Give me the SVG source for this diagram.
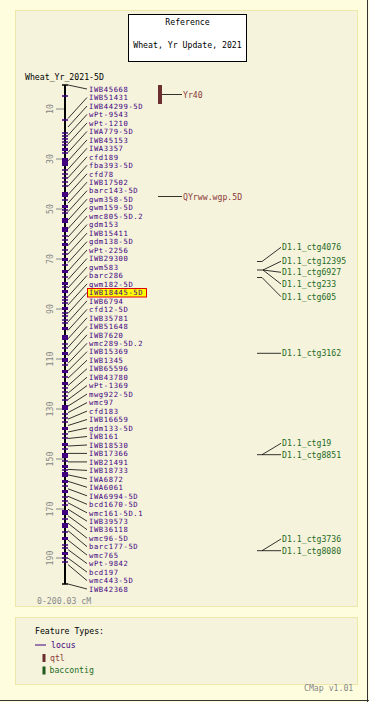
<svg xmlns="http://www.w3.org/2000/svg" width="369" height="702" viewBox="0 0 369 702">
<style>
text{font-family:"DejaVu Sans Mono","Liberation Mono",monospace;font-size:8.2px}
#markers text{font-size:7.2px;letter-spacing:0.6px}
.lbl{fill:#400080}
.qtl{fill:#8b3a3a}
.bac{fill:#1f6b1f}
.blk{fill:#000}
.gry{fill:#888}
.con line{stroke:#000;stroke-width:0.8}
.tk{stroke:#400080;stroke-width:1.3}
.sc{stroke:#888;stroke-width:1}
</style>
<rect x="0" y="0" width="369" height="702" fill="#fefdde"/>
<line x1="367.5" y1="0" x2="367.5" y2="702" stroke="#333"/>
<line x1="0" y1="700.5" x2="369" y2="700.5" stroke="#333"/>
<rect x="15.5" y="10.5" width="342" height="596" fill="#f5f3dc" stroke="#ede7a8"/>
<rect x="15.5" y="617.5" width="342" height="67" fill="#f5f3dc" stroke="#ede7a8"/>

<g id="title">
<rect x="128.5" y="14.5" width="118" height="47" fill="#fff" stroke="#000"/>
<text x="187.5" y="25" text-anchor="middle" class="blk">Reference</text>
<text x="187.5" y="48" text-anchor="middle" class="blk">Wheat, Yr Update, 2021</text>
</g>

<text x="25" y="80" class="blk">Wheat_Yr_2021-5D</text>

<g id="scale">
<g class="sc">
<line x1="56" y1="109" x2="64" y2="109"/><line x1="56" y1="159" x2="64" y2="159"/>
<line x1="56" y1="209" x2="64" y2="209"/><line x1="56" y1="259" x2="64" y2="259"/>
<line x1="56" y1="309" x2="64" y2="309"/><line x1="56" y1="359" x2="64" y2="359"/>
<line x1="56" y1="409" x2="64" y2="409"/><line x1="56" y1="459" x2="64" y2="459"/>
<line x1="56" y1="509" x2="64" y2="509"/><line x1="56" y1="558" x2="64" y2="558"/>
</g>
<g class="gry" text-anchor="middle">
<text transform="translate(53,109) rotate(-90)">10</text>
<text transform="translate(53,159) rotate(-90)">30</text>
<text transform="translate(53,209) rotate(-90)">50</text>
<text transform="translate(53,259) rotate(-90)">70</text>
<text transform="translate(53,309) rotate(-90)">90</text>
<text transform="translate(53,359) rotate(-90)">110</text>
<text transform="translate(53,409) rotate(-90)">130</text>
<text transform="translate(53,459) rotate(-90)">150</text>
<text transform="translate(53,509) rotate(-90)">170</text>
<text transform="translate(53,558) rotate(-90)">190</text>
</g>
<text x="37" y="604" class="gry">0-200.03 cM</text>
</g>

<g id="chromosome">
<line x1="65" y1="85" x2="65" y2="584" stroke="#000" stroke-width="2"/>
<line x1="62" y1="85" x2="68" y2="85" stroke="#000" stroke-width="1.5"/>
<line x1="62" y1="584" x2="68" y2="584" stroke="#000" stroke-width="1.5"/>
<g fill="#400080">
<rect x="62" y="148" width="6" height="3"/><rect x="62" y="158" width="6" height="8"/>
<rect x="62" y="192" width="6" height="5"/><rect x="62" y="205" width="6" height="3"/>
<rect x="62" y="218" width="6" height="5"/><rect x="62" y="227" width="6" height="5"/>
<rect x="62" y="243" width="6" height="3"/><rect x="62" y="258" width="6" height="3"/>
<rect x="62" y="270" width="6" height="3"/><rect x="62" y="282" width="6" height="3"/>
<rect x="62" y="290" width="6" height="3"/><rect x="62" y="307" width="6" height="3"/>
<rect x="62" y="327" width="6" height="3"/><rect x="62" y="335" width="6" height="5"/>
<rect x="62" y="352" width="6" height="3"/><rect x="62" y="358" width="6" height="4"/>
<rect x="62" y="370" width="6" height="3"/><rect x="62" y="382" width="6" height="3"/>
<rect x="62" y="405" width="6" height="5"/><rect x="62" y="427" width="6" height="3"/>
<rect x="62" y="443" width="6" height="3"/><rect x="62" y="453" width="6" height="5"/>
<rect x="62" y="465" width="6" height="3"/><rect x="62" y="472" width="6" height="5"/>
<rect x="62" y="480" width="6" height="3"/><rect x="62" y="490" width="6" height="3"/>
<rect x="62" y="510" width="6" height="5"/><rect x="62" y="523" width="6" height="5"/>
<rect x="62" y="537" width="6" height="3"/><rect x="62" y="552" width="6" height="3"/>
</g>
<path class="tk" d="M62 96h6M62 120h6M62 133h6M62 136h6M62 139h6M62 142h6M62 145h6M62 153h6M62 170h6M62 174h6M62 178h6M62 182h6M62 186h6M62 200h6M62 210h6M62 213h6M62 236h6M62 240h6M62 250h6M62 254h6M62 265h6M62 277h6M62 287h6M62 297h6M62 300h6M62 303h6M62 313h6M62 316h6M62 320h6M62 323h6M62 344h6M62 348h6M62 365h6M62 377h6M62 388h6M62 392h6M62 396h6M62 400h6M62 414h6M62 418h6M62 422h6M62 434h6M62 438h6M62 449h6M62 461h6M62 470h6M62 486h6M62 497h6M62 501h6M62 505h6M62 519h6M62 532h6M62 545h6M62 548h6M62 558h6M62 562h6"/>
</g>

<g id="connectors" class="con">
<line x1="68" y1="85" x2="87" y2="89"/>
<line x1="68" y1="118.5" x2="87" y2="97.5"/>
<line x1="68" y1="127" x2="87" y2="106"/>
<line x1="68" y1="135.4" x2="87" y2="114.4"/>
<line x1="68" y1="143.9" x2="87" y2="122.9"/>
<line x1="68" y1="152.4" x2="87" y2="131.4"/>
<line x1="68" y1="160.9" x2="87" y2="139.9"/>
<line x1="68" y1="169.3" x2="87" y2="148.3"/>
<line x1="68" y1="177.8" x2="87" y2="156.8"/>
<line x1="68" y1="186.3" x2="87" y2="165.3"/>
<line x1="68" y1="194.8" x2="87" y2="173.8"/>
<line x1="68" y1="203.2" x2="87" y2="182.2"/>
<line x1="68" y1="211.7" x2="87" y2="190.7"/>
<line x1="68" y1="220.2" x2="87" y2="199.2"/>
<line x1="68" y1="228.7" x2="87" y2="207.7"/>
<line x1="68" y1="237.1" x2="87" y2="216.1"/>
<line x1="68" y1="245.6" x2="87" y2="224.6"/>
<line x1="68" y1="254.1" x2="87" y2="233.1"/>
<line x1="68" y1="262.6" x2="87" y2="241.6"/>
<line x1="68" y1="271" x2="87" y2="250"/>
<line x1="68" y1="279.5" x2="87" y2="258.5"/>
<line x1="68" y1="288" x2="87" y2="267"/>
<line x1="68" y1="296.5" x2="87" y2="275.5"/>
<line x1="68" y1="304.9" x2="87" y2="283.9"/>
<line x1="68" y1="313.4" x2="87" y2="292.4"/>
<line x1="68" y1="321.9" x2="87" y2="300.9"/>
<line x1="68" y1="330.4" x2="87" y2="309.4"/>
<line x1="68" y1="338.8" x2="87" y2="317.8"/>
<line x1="68" y1="347.3" x2="87" y2="326.3"/>
<line x1="68" y1="355.8" x2="87" y2="334.8"/>
<line x1="68" y1="363.3" x2="87" y2="343.3"/>
<line x1="68" y1="370.7" x2="87" y2="351.7"/>
<line x1="68" y1="378.2" x2="87" y2="360.2"/>
<line x1="68" y1="385.7" x2="87" y2="368.7"/>
<line x1="68" y1="393.2" x2="87" y2="377.2"/>
<line x1="68" y1="399.6" x2="87" y2="385.6"/>
<line x1="68" y1="406.1" x2="87" y2="394.1"/>
<line x1="68" y1="412.6" x2="87" y2="402.6"/>
<line x1="68" y1="419.1" x2="87" y2="411.1"/>
<line x1="68" y1="425.5" x2="87" y2="419.5"/>
<line x1="68" y1="432" x2="87" y2="428"/>
<line x1="68" y1="438.5" x2="87" y2="436.5"/>
<line x1="68" y1="446" x2="87" y2="445"/>
<line x1="68" y1="453.4" x2="87" y2="453.4"/>
<line x1="68" y1="461.9" x2="87" y2="461.9"/>
<line x1="68" y1="469.4" x2="87" y2="470.4"/>
<line x1="68" y1="474.9" x2="87" y2="478.9"/>
<line x1="68" y1="481.3" x2="87" y2="487.3"/>
<line x1="68" y1="488.8" x2="87" y2="495.8"/>
<line x1="68" y1="496.3" x2="87" y2="504.3"/>
<line x1="68" y1="502.8" x2="87" y2="512.8"/>
<line x1="68" y1="509.2" x2="87" y2="521.2"/>
<line x1="68" y1="515.7" x2="87" y2="529.7"/>
<line x1="68" y1="523.2" x2="87" y2="538.2"/>
<line x1="68" y1="530.7" x2="87" y2="546.7"/>
<line x1="68" y1="540.1" x2="87" y2="555.1"/>
<line x1="68" y1="549.6" x2="87" y2="563.6"/>
<line x1="68" y1="558.1" x2="87" y2="572.1"/>
<line x1="68" y1="564.6" x2="87" y2="580.6"/>
<line x1="68" y1="584" x2="87" y2="589"/>
<line x1="162" y1="94.5" x2="182" y2="94.5"/>
<line x1="158" y1="196.5" x2="182" y2="196.5"/>
<line x1="257" y1="261.5" x2="262" y2="261.5"/><line x1="262" y1="261.5" x2="281" y2="247.3"/>
<line x1="257" y1="270" x2="263" y2="270"/><line x1="263" y1="270" x2="281" y2="261.3"/>
<line x1="263" y1="270" x2="281" y2="272.3"/><line x1="263" y1="270" x2="281" y2="284"/>
<line x1="257" y1="277.5" x2="262" y2="277.5"/><line x1="262" y1="277.5" x2="281" y2="296.7"/>
<line x1="257" y1="353.3" x2="281" y2="353.3"/>
<line x1="257" y1="454.7" x2="281" y2="454.7"/><line x1="262" y1="454.7" x2="281" y2="443.3"/>
<line x1="257" y1="550.7" x2="281" y2="550.7"/><line x1="262" y1="550.7" x2="281" y2="539"/>
</g>

<g id="markers" class="lbl">
<text x="89" y="91.7">IWB45668</text>
<text x="89" y="100.2">IWB51431</text>
<text x="89" y="108.7">IWB44299-5D</text>
<text x="89" y="117.1">wPt-9543</text>
<text x="89" y="125.6">wPt-1210</text>
<text x="89" y="134.1">IWA779-5D</text>
<text x="89" y="142.6">IWB45153</text>
<text x="89" y="151">IWA3357</text>
<text x="89" y="159.5">cfd189</text>
<text x="89" y="168">fba393-5D</text>
<text x="89" y="176.5">cfd78</text>
<text x="89" y="184.9">IWB17502</text>
<text x="89" y="193.4">barc143-5D</text>
<text x="89" y="201.9">gwm358-5D</text>
<text x="89" y="210.4">gwm159-5D</text>
<text x="89" y="218.8">wmc805-5D.2</text>
<text x="89" y="227.3">gdm153</text>
<text x="89" y="235.8">IWB15411</text>
<text x="89" y="244.3">gdm138-5D</text>
<text x="89" y="252.7">wPt-2256</text>
<text x="89" y="261.2">IWB29300</text>
<text x="89" y="269.7">gwm583</text>
<text x="89" y="278.2">barc286</text>
<text x="89" y="286.6">gwm182-5D</text>
<rect x="87.5" y="288.5" width="59" height="8.5" fill="#ffff00" stroke="#e00000"/>
<text x="89" y="295.1">IWB18445-5D</text>
<text x="89" y="303.6">IWB6794</text>
<text x="89" y="312.1">cfd12-5D</text>
<text x="89" y="320.5">IWB35781</text>
<text x="89" y="329">IWB51648</text>
<text x="89" y="337.5">IWB7620</text>
<text x="89" y="346">wmc289-5D.2</text>
<text x="89" y="354.4">IWB15369</text>
<text x="89" y="362.9">IWB1345</text>
<text x="89" y="371.4">IWB65596</text>
<text x="89" y="379.9">IWB43780</text>
<text x="89" y="388.3">wPt-1369</text>
<text x="89" y="396.8">mwg922-5D</text>
<text x="89" y="405.3">wmc97</text>
<text x="89" y="413.8">cfd183</text>
<text x="89" y="422.2">IWB16659</text>
<text x="89" y="430.7">gdm133-5D</text>
<text x="89" y="439.2">IWB161</text>
<text x="89" y="447.7">IWB18530</text>
<text x="89" y="456.1">IWB17366</text>
<text x="89" y="464.6">IWB21491</text>
<text x="89" y="473.1">IWB18733</text>
<text x="89" y="481.6">IWA6872</text>
<text x="89" y="490">IWA6061</text>
<text x="89" y="498.5">IWA6994-5D</text>
<text x="89" y="507">bcd1670-5D</text>
<text x="89" y="515.5">wmc161-5D.1</text>
<text x="89" y="523.9">IWB39573</text>
<text x="89" y="532.4">IWB36118</text>
<text x="89" y="540.9">wmc96-5D</text>
<text x="89" y="549.4">barc177-5D</text>
<text x="89" y="557.8">wmc765</text>
<text x="89" y="566.3">wPt-9842</text>
<text x="89" y="574.8">bcd197</text>
<text x="89" y="583.3">wmc443-5D</text>
<text x="89" y="591.7">IWB42368</text>
</g>

<g id="qtl-Yr40">
<rect x="158" y="85" width="4" height="19" fill="#6b2f2f"/>
<text x="183" y="97.5" class="qtl">Yr40</text>
</g>
<g id="qtl-QYr">
<text x="183" y="199.5" class="qtl">QYrww.wgp.5D</text>
</g>

<g id="baccontigs" class="bac">
<text x="282" y="250.3">D1.1_ctg4076</text>
<text x="282" y="264.3">D1.1_ctg12395</text>
<text x="282" y="275.3">D1.1_ctg6927</text>
<text x="282" y="287">D1.1_ctg233</text>
<text x="282" y="299.7">D1.1_ctg605</text>
<text x="282" y="356.3">D1.1_ctg3162</text>
<text x="282" y="446.3">D1.1_ctg19</text>
<text x="282" y="457.7">D1.1_ctg8851</text>
<text x="282" y="542">D1.1_ctg3736</text>
<text x="282" y="553.7">D1.1_ctg8080</text>
</g>

<g id="legend">
<text x="35" y="634" class="blk">Feature Types:</text>
<line x1="35" y1="645" x2="46" y2="645" stroke="#400080" stroke-width="1"/>
<text x="51" y="648" class="lbl">locus</text>
<rect x="42.5" y="654" width="3" height="8" fill="#6b2f2f"/>
<text x="50" y="661" class="qtl">qtl</text>
<rect x="42.5" y="666.5" width="3" height="8" fill="#1f5a1f"/>
<text x="49.5" y="673.3" class="bac">baccontig</text>
</g>
<text x="304" y="691" class="gry">CMap v1.01</text>
</svg>
